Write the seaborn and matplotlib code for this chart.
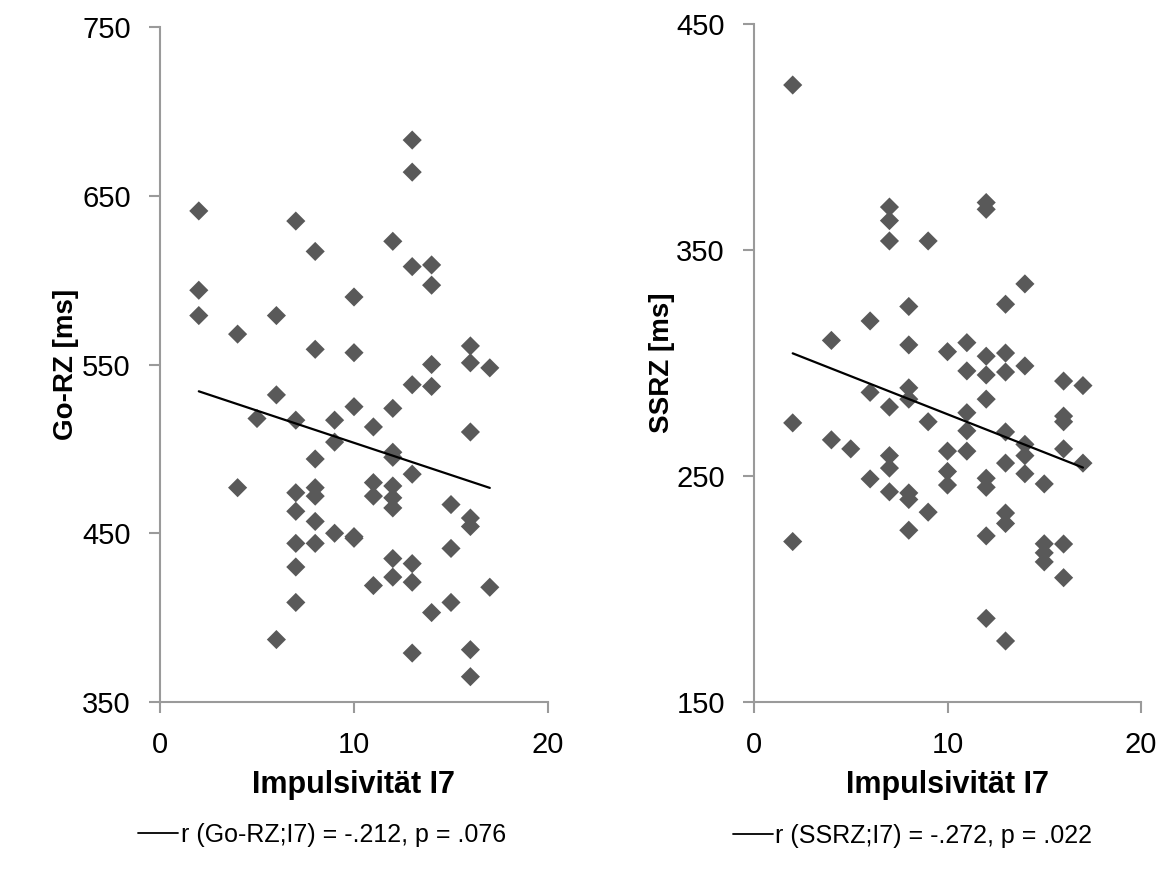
import numpy as np
import pandas as pd
import matplotlib
matplotlib.use("Agg")
import matplotlib.pyplot as plt
from matplotlib.lines import Line2D
import seaborn as sns

# ---- data ----
go_x = [2, 2, 2,
        4, 4,
        5,
        6, 6, 6,
        7, 7, 7, 7, 7, 7, 7,
        8, 8, 8, 8, 8, 8, 8,
        9, 9, 9,
        10, 10, 10, 10, 10,
        11, 11, 11, 11,
        12, 12, 12, 12, 12, 12, 12, 12, 12,
        13, 13, 13, 13, 13, 13, 13, 13,
        14, 14, 14, 14, 14,
        15, 15, 15,
        16, 16, 16, 16, 16, 16, 16,
        17, 17]
go_y = [641, 594, 579,
        568, 477,
        518,
        579, 532, 387,
        635, 517, 474, 463, 444, 430, 409,
        617, 559, 494, 477, 472, 457, 444,
        517, 504, 450,
        590, 557, 525, 448, 447,
        513, 480, 472, 419,
        623, 524, 498, 495, 478, 471, 465, 435, 424,
        683, 664, 608, 538, 485, 432, 421, 379,
        609, 597, 550, 537, 403,
        467, 441, 409,
        561, 551, 510, 459, 454, 381, 365,
        548, 418]

ss_x = [2, 2, 2,
        4, 4,
        5,
        6, 6, 6,
        7, 7, 7, 7, 7, 7, 7,
        8, 8, 8, 8, 8, 8, 8,
        9, 9, 9,
        10, 10, 10, 10,
        11, 11, 11, 11, 11,
        12, 12, 12, 12, 12, 12, 12, 12, 12,
        13, 13, 13, 13, 13, 13, 13, 13,
        14, 14, 14, 14, 14,
        15, 15, 15, 15,
        16, 16, 16, 16, 16, 16,
        17, 17]
ss_y = [423, 273.5, 221,
        310, 266,
        262,
        318.6, 287, 248.7,
        369, 363, 354, 280.5, 259, 253.5, 243,
        325, 308, 289, 284, 242.5, 239.6, 226,
        354, 274, 234,
        305, 261, 252, 246,
        309, 296.5, 278, 270, 261,
        371, 368, 303, 294.7, 284, 249, 245, 223.5, 187,
        326, 304.4, 296, 269.5, 255.7, 233.6, 229, 177,
        335, 298.7, 264, 259, 251,
        246.5, 220, 216, 212,
        292, 276.5, 274, 262, 219.9, 205,
        290, 255.7]

x_label = "Impulsivität I7"
left_ylabel = "Go-RZ [ms]"
right_ylabel = "SSRZ [ms]"
left_legend = "r (Go-RZ;I7) = -.212, p = .076"
right_legend = "r (SSRZ;I7) = -.272, p = .022"
left_yticks = [350, 450, 550, 650, 750]
right_yticks = [150, 250, 350, 450]
x_ticks = [0, 10, 20]

sns.set_theme(style="white")
plt.rcParams['font.family'] = ['Liberation Sans', 'DejaVu Sans']
plt.rcParams['text.color'] = 'black'
plt.rcParams['axes.labelcolor'] = 'black'

fig = plt.figure(figsize=(11.67, 8.76), dpi=100)
axL = fig.add_axes([160/1167, 1-702/876, 388/1167, 675/876])
axR = fig.add_axes([754/1167, 1-702/876, 387/1167, 678/876])

marker_color = "#595959"
spine_color = "#9a9a9a"

def draw(ax, xs, ys, ylab, leg, yticks, leg_x, ylab_x):
    df = pd.DataFrame({"x": xs, "y": ys})
    sns.scatterplot(data=df, x="x", y="y", marker="D", s=95, color=marker_color,
                    edgecolor="none", linewidth=0, ax=ax, zorder=3, legend=False)
    sns.regplot(data=df, x="x", y="y", scatter=False, ci=None, truncate=True,
                color="black", line_kws={"lw": 1.6, "zorder": 4}, ax=ax)
    ax.set_xlim(0, 20)
    ax.set_ylim(yticks[0], yticks[-1])
    ax.set_xticks(x_ticks)
    ax.set_yticks(yticks)
    for s in ["top", "right"]:
        ax.spines[s].set_visible(False)
    for s in ["left", "bottom"]:
        ax.spines[s].set_color(spine_color)
        ax.spines[s].set_linewidth(1.5)
    ax.tick_params(axis="both", which="major", direction="out", length=8, width=1.5,
                   color=spine_color, labelsize=21, labelcolor="black", pad=13,
                   left=True, bottom=True)
    ax.set_xlabel(x_label, fontsize=22, fontweight="bold", labelpad=8)
    ax.set_ylabel(ylab, fontsize=20, fontweight="bold")
    ax.yaxis.set_label_coords(ylab_x, 0.5)
    handle = Line2D([], [], color="black", lw=1.3)
    ax.legend([handle], [leg], loc="center", bbox_to_anchor=(leg_x, -0.197),
              frameon=False, fontsize=18, handlelength=1.6, handletextpad=0.1)

draw(axL, go_x, go_y, left_ylabel, left_legend, left_yticks, 0.418, -0.21)
draw(axR, ss_x, ss_y, right_ylabel, right_legend, right_yticks, 0.41, -0.204)

fig.savefig("out.png", dpi=100)
